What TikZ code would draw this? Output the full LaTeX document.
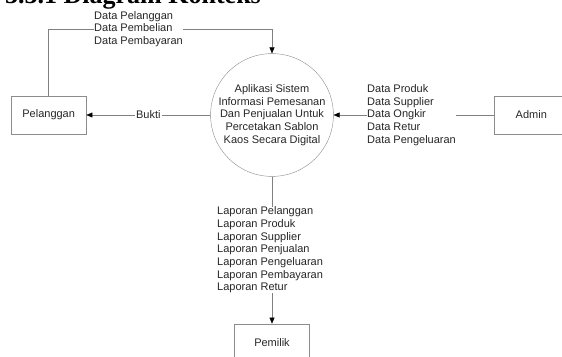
\documentclass[tikz,border=0pt]{standalone}
\usepackage{fontspec}
\setmainfont{Liberation Sans}
\newfontfamily\headfont{Liberation Serif}
\usetikzlibrary{positioning,arrows.meta}

\begin{document}
\begin{tikzpicture}[x=1pt, y=-1pt,
    font=\fontsize{11}{12.7}\selectfont, text=black!85,
    entitas/.style={draw=gray!90, minimum width=75pt, minimum height=38pt, inner sep=0pt},
    proses/.style={circle, draw=gray!90, minimum size=120pt, inner sep=0pt, align=center},
    aliran/.style={draw=gray, -{Triangle[width=5pt,length=6pt,color=black]}},
    ket/.style={fill=white, inner sep=0pt, align=left}]
    \useasboundingbox (0,0) rectangle (562,356);
    \clip (0,0) rectangle (562,356);

    % Judul
    \node[anchor=base west, inner sep=0pt, font={\headfont\bfseries\fontsize{26pt}{30pt}\selectfont}, text=black] (judul) at (5,4) {3.3.1 Diagram Konteks};

    % Proses
    \node[proses] (sistem) at (272,115) {Aplikasi Sistem\\Informasi Pemesanan\\Dan Penjualan Untuk\\Percetakan Sablon\\Kaos Secara Digital};

    % Entitas
    \node[entitas, left=124pt of sistem] (pelanggan) {Pelanggan};
    \node[entitas, right=160pt of sistem] (admin) {Admin};
    \node[entitas, below=147pt of sistem] (pemilik) {Pemilik};

    % Aliran data
    \draw[aliran] (pelanggan.north) -- (pelanggan.north |- 0,29) -| (sistem.north);
    \node[ket, anchor=west] (datapelanggan) at (94,29) {Data Pelanggan\\Data Pembelian\\Data Pembayaran};

    \draw[aliran] (sistem.west) -- (pelanggan.east) node[midway, fill=white, inner sep=1pt] (bukti) {Bukti};

    \draw[aliran] (admin.west) -- (sistem.east);
    \node[ket, anchor=west] (dataadmin) at (367,115) {Data Produk\\Data Supplier\\Data Ongkir\\Data Retur\\Data Pengeluaran};

    \draw[aliran] (sistem.south) -- (pemilik.north);
    \node[ket, anchor=west] (laporan) at (217,250) {Laporan Pelanggan\\Laporan Produk\\Laporan Supplier\\Laporan Penjualan\\Laporan Pengeluaran\\Laporan Pembayaran\\Laporan Retur};
\end{tikzpicture}
\end{document}
